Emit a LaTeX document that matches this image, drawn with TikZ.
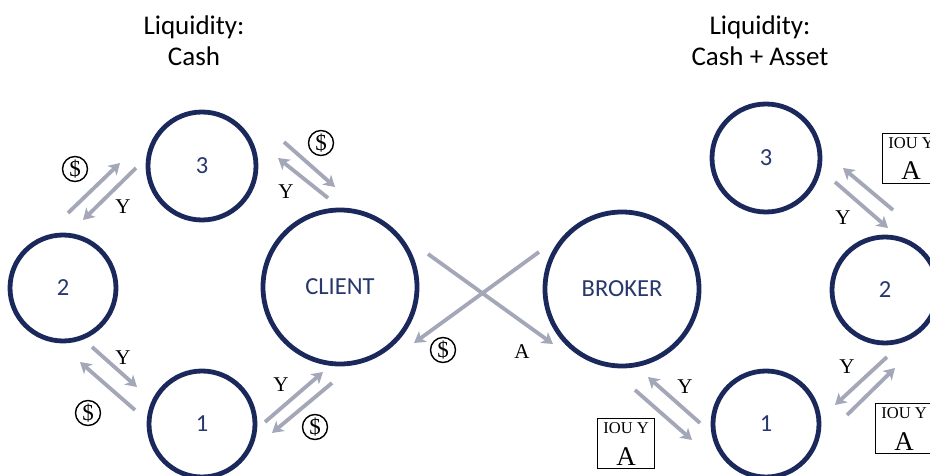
\documentclass[tikz,border=0pt]{standalone}
\usepackage{fontspec}
\setmainfont{Carlito}
\newfontfamily\tnr{Liberation Serif}
\usetikzlibrary{arrows.meta}
\definecolor{navy}{RGB}{27,40,92}
\definecolor{navytext}{RGB}{40,55,110}
\definecolor{arrgray}{RGB}{163,167,183}
\tikzset{
  party/.style={circle, draw=navy, line width=4.8pt, minimum size=#1, inner sep=0pt,
     text=navytext, font=\fontsize{24.5}{28}\selectfont},
  flow/.style={draw=arrgray, line width=3.8pt, -{Stealth[length=11pt,width=13pt,inset=3pt]}},
  dollar/.style={circle, draw, line width=1.4pt, inner sep=0pt, minimum size=25pt,
     font=\tnr\fontsize{23}{23}\selectfont},
  lbl/.style={font=\tnr\fontsize{21}{21}\selectfont, inner sep=0pt},
  ioubox/.style={draw, line width=1.2pt, minimum width=57pt, minimum height=50pt, inner sep=0pt, anchor=north west},
  iout/.style={font=\tnr\fontsize{16.5}{16.5}\selectfont, anchor=base, inner sep=0pt},
  ioua/.style={font=\tnr\fontsize{27}{27}\selectfont, anchor=base, inner sep=0pt},
  title/.style={align=center, font=\fontsize{27}{31}\selectfont}
}
\begin{document}
\begin{tikzpicture}[x=1pt,y=-1pt]
\useasboundingbox (0,0) rectangle (930,476);
\clip (0,0) rectangle (930,476);
\fill[white] (0,0) rectangle (930,476);
% titles
\node[title] (t1) at (194,41) {Liquidity:\\Cash};
\node[title] (t2) at (760,41) {Liquidity:\\Cash + Asset};
% parties
\node[party=108pt] (L3) at (202,166) {3};
\node[party=106pt] (L2) at (63,288) {2};
\node[party=106pt] (L1) at (202,424) {1};
\node[party=154pt] (C) at (340,287) {CLIENT};
\node[party=154pt] (B) at (622,289) {BROKER};
\node[party=108pt] (R3) at (766,158) {3};
\node[party=106pt] (R2) at (885,290) {2};
\node[party=106pt] (R1) at (766,424) {1};
% arrow end points
\coordinate (a1s) at (68,213);  \coordinate (a1e) at (120,163);
\coordinate (a2s) at (136,168); \coordinate (a2e) at (83,220);
\coordinate (a3s) at (284,142); \coordinate (a3e) at (335,187);
\coordinate (a4s) at (328,198); \coordinate (a4e) at (278,158);
\coordinate (a5s) at (92,347);  \coordinate (a5e) at (137,387);
\coordinate (a6s) at (135,410); \coordinate (a6e) at (80,362);
\coordinate (a7s) at (265,422); \coordinate (a7e) at (323,372);
\coordinate (a8s) at (332,383); \coordinate (a8e) at (272,433);
\coordinate (x1s) at (428,254); \coordinate (x1e) at (553,344);
\coordinate (x2s) at (539,252); \coordinate (x2e) at (414,343);
\coordinate (b1s) at (700,423); \coordinate (b1e) at (648,377);
\coordinate (b2s) at (635,390); \coordinate (b2e) at (692,440);
\coordinate (b3s) at (887,357); \coordinate (b3e) at (835,405);
\coordinate (b4s) at (847,415); \coordinate (b4e) at (895,368);
\coordinate (b5s) at (893,210); \coordinate (b5e) at (843,168);
\coordinate (b6s) at (835,182); \coordinate (b6e) at (888,228);
\foreach \s/\e in {a1s/a1e,a2s/a2e,a3s/a3e,a4s/a4e,a5s/a5e,a6s/a6e,a7s/a7e,a8s/a8e,
  x1s/x1e,x2s/x2e,b1s/b1e,b2s/b2e,b3s/b3e,b4s/b4e,b5s/b5e,b6s/b6e}
  \draw[flow] (\s) -- (\e);
% dollar labels
\node[dollar] (d1) at (75,169) {\$};
\node[dollar] (d2) at (321,143) {\$};
\node[dollar] (d3) at (88,413) {\$};
\node[dollar] (d4) at (315,427) {\$};
\node[dollar] (d5) at (443,350) {\$};
% Y labels
\node[lbl] (y1) at (123,207) {Y};
\node[lbl] (y2) at (286,192) {Y};
\node[lbl] (y3) at (123,358) {Y};
\node[lbl] (y4) at (281,385) {Y};
\node[lbl] (y5) at (685,387) {Y};
\node[lbl] (y6) at (847,367) {Y};
\node[lbl] (y7) at (843,218) {Y};
\node[lbl] (aa) at (522,352) {A};
% IOU boxes
\node[ioubox] (i1) at (597,418) {};
\node[iout] (i1t) at ([xshift=0pt,yshift=-15.5pt]i1.north) {IOU Y};
\node[ioua] (i1a) at ([yshift=-47pt]i1.north) {A};
\node[ioubox] (i2) at (875,403) {};
\node[iout] (i2t) at ([yshift=-15.5pt]i2.north) {IOU Y};
\node[ioua] (i2a) at ([yshift=-47pt]i2.north) {A};
\node[ioubox] (i3) at (882,133) {};
\node[iout] (i3t) at ([yshift=-15.5pt]i3.north) {IOU Y};
\node[ioua] (i3a) at ([yshift=-47pt]i3.north) {A};
\end{tikzpicture}
\end{document}
